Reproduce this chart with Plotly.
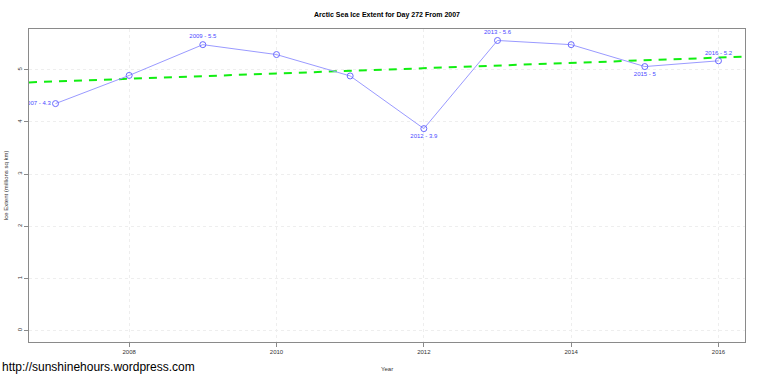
import numpy as np
import plotly.graph_objects as go

years = [2007, 2008, 2009, 2010, 2011, 2012, 2013, 2014, 2015, 2016]
extent = [4.35, 4.89, 5.48, 5.29, 4.88, 3.87, 5.56, 5.48, 5.06, 5.17]
point_labels = ["2007 - 4.3", "", "2009 - 5.5", "", "", "2012 - 3.9",
                "2013 - 5.6", "", "2015 - 5", "2016 - 5.2"]
label_pos = ["middle left", "top center", "top center", "top center", "top center",
             "bottom center", "top center", "top center", "bottom center", "top center"]
x_ticks = [2008, 2010, 2012, 2014, 2016]
y_ticks = [0, 1, 2, 3, 4, 5]

x_range = [2006.64, 2016.36]
y_range = [-0.22, 5.78]

slope, intercept = np.polyfit(years, extent, 1)
trend_x = x_range
trend_y = [slope * x + intercept for x in trend_x]

FONT = "Liberation Sans, Arial, sans-serif"

fig = go.Figure()
fig.add_trace(go.Scatter(
    x=trend_x, y=trend_y, mode="lines",
    line=dict(color="#11ee11", width=2, dash="8px,7px"),
    hoverinfo="skip", showlegend=False,
))
fig.add_trace(go.Scatter(
    x=years, y=extent, mode="lines+markers+text",
    line=dict(color="#9a9aff", width=1),
    marker=dict(symbol="circle-open", size=6, color="#6a6aff", line=dict(width=1, color="#6a6aff")),
    text=point_labels, textposition=label_pos,
    textfont=dict(family=FONT, size=6, color="#4a4aff"),
    cliponaxis=True, showlegend=False,
))

axis_common = dict(
    showline=True, mirror=True, linecolor="#8a8a8a", linewidth=1,
    ticks="outside", ticklen=4, tickcolor="#8a8a8a", tickwidth=1,
    showgrid=True, gridcolor="#eeeeee", gridwidth=1, griddash="dot",
    zeroline=False,
    tickfont=dict(family=FONT, size=6, color="#333333"),
)

fig.update_layout(
    width=760, height=379,
    margin=dict(l=29, r=15, t=29, b=37),
    paper_bgcolor="white", plot_bgcolor="white",
    xaxis=dict(range=x_range, tickvals=x_ticks, ticktext=[str(v) for v in x_ticks], **axis_common),
    yaxis=dict(range=y_range, tickvals=y_ticks, ticktext=[str(v) for v in y_ticks],
               tickangle=-90, **axis_common),
    title=dict(text="<b>Arctic Sea Ice Extent for Day 272 From 2007</b>",
               x=387 / 760, xanchor="center", y=1 - 15 / 379, yanchor="middle",
               font=dict(family=FONT, size=7, color="black")),
    annotations=[
        dict(text="Year", xref="paper", yref="paper", x=0.5, y=-(369 - 342) / 313,
             xanchor="center", yanchor="middle", showarrow=False,
             font=dict(family=FONT, size=6, color="#333333")),
        dict(text="Ice Extent (millions sq km)", xref="paper", yref="paper",
             x=-(29 - 5) / 716, y=0.5, xanchor="center", yanchor="middle", textangle=-90,
             showarrow=False, font=dict(family=FONT, size=6, color="#333333")),
        dict(text="http://sunshinehours.wordpress.com", xref="paper", yref="paper",
             x=-29 / 716, y=-(367 - 342) / 313, xanchor="left", yanchor="middle",
             showarrow=False, font=dict(family=FONT, size=12, color="black")),
    ],
)

fig.write_html("out.html", config={"displayModeBar": False},
               post_script="document.body.style.margin='0';")
